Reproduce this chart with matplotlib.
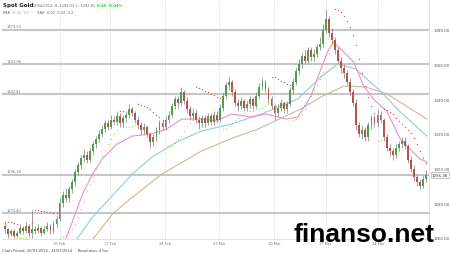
import matplotlib
matplotlib.use("Agg")
import matplotlib.pyplot as plt
import numpy as np

# ---------------- data ----------------
first_open = 1267
closes = [
    1265, 1262, 1264, 1261, 1263, 1266, 1264, 1267, 1263, 1265,
    1264, 1266, 1263, 1265, 1267, 1264, 1268, 1271,
    1280, 1285, 1283,
    1288, 1292, 1298, 1302, 1306,
    1308, 1305, 1310, 1314, 1317,
    1320, 1323, 1326, 1324, 1328,
    1327, 1330, 1326, 1329, 1331, 1334, 1332,
    1328, 1325, 1322, 1324, 1320,
    1315, 1318,
    1322, 1326, 1324, 1328, 1331,
    1336, 1340, 1338, 1344,
    1339, 1334, 1330, 1332, 1328, 1326,
    1329, 1326, 1330, 1327, 1331, 1328,
    1335, 1342, 1348, 1350,
    1344, 1338, 1336, 1339, 1335, 1337, 1340, 1336,
    1342, 1347, 1350, 1346,
    1340, 1336, 1332, 1335, 1338, 1334, 1337,
    1345, 1350,
    1356, 1360,
    1365, 1362, 1368, 1364, 1366, 1370, 1372,
    1380, 1386,
    1378, 1374,
    1368, 1362, 1358,
    1355, 1350,
    1344, 1338,
    1325, 1320,
    1322, 1318, 1325, 1329, 1326, 1331, 1328,
    1318, 1312, 1310,
    1308, 1312,
    1314, 1316, 1313,
    1305, 1300,
    1295, 1292, 1290, 1294,
    1296.38,
]
highs = [
    1269, 1266, 1265, 1265, 1264, 1268, 1267, 1269, 1268, 1276,
    1267, 1268, 1267, 1267, 1269, 1268, 1270, 1273,
    1283, 1287, 1289,
    1290, 1294, 1300, 1304, 1308,
    1311, 1310, 1312, 1316, 1319,
    1322, 1325, 1328, 1328, 1331,
    1330, 1333, 1332, 1331, 1333, 1337, 1336,
    1333, 1330, 1327, 1326, 1325,
    1321, 1320,
    1324, 1328, 1328, 1330, 1333,
    1338, 1342, 1342, 1347,
    1345, 1341, 1336, 1335, 1334, 1330,
    1331, 1331, 1332, 1332, 1333, 1333,
    1337, 1344, 1350, 1353,
    1351, 1346, 1340, 1341, 1340, 1339, 1342, 1341,
    1344, 1349, 1352, 1351,
    1347, 1342, 1337, 1337, 1340, 1339, 1339,
    1347, 1352,
    1358, 1363,
    1367, 1368, 1370, 1370, 1369, 1372, 1376,
    1383, 1392,
    1388, 1381,
    1376, 1370, 1364,
    1360, 1357,
    1352, 1346,
    1340, 1327,
    1325, 1324, 1327, 1331, 1331, 1334, 1333,
    1329, 1320, 1314,
    1312, 1314,
    1316, 1318, 1318,
    1314, 1307,
    1302, 1297, 1294, 1296,
    1299,
]
lows = [
    1263, 1260, 1261, 1260, 1260, 1262, 1262, 1263, 1261, 1260,
    1262, 1263, 1261, 1262, 1264, 1262, 1263, 1266,
    1270, 1278, 1281,
    1281, 1286, 1290, 1296, 1300,
    1304, 1303, 1304, 1308, 1312,
    1315, 1318, 1321, 1322, 1323,
    1325, 1325, 1324, 1324, 1327, 1329, 1330,
    1326, 1323, 1320, 1320, 1318,
    1312, 1313,
    1316, 1320, 1322, 1322, 1326,
    1329, 1334, 1335, 1336,
    1337, 1332, 1328, 1328, 1326, 1323,
    1324, 1324, 1325, 1325, 1325, 1326,
    1327, 1333, 1340, 1345,
    1342, 1336, 1333, 1334, 1333, 1333, 1335, 1334,
    1335, 1340, 1345, 1344,
    1338, 1334, 1328, 1330, 1333, 1332, 1332,
    1336, 1343,
    1348, 1354,
    1358, 1360, 1360, 1362, 1362, 1364, 1368,
    1370, 1378,
    1376, 1372,
    1366, 1360, 1355,
    1352, 1348,
    1342, 1336,
    1322, 1318,
    1317, 1316, 1316, 1323, 1324, 1324, 1326,
    1316, 1310, 1307,
    1305, 1306,
    1310, 1312, 1311,
    1303, 1298,
    1293, 1290, 1288, 1289,
    1292,
]

# EMA lines (candle index, price)
ema20_x = [19.5, 22.3, 25.6, 28.9, 32.1, 37.0, 42.0, 48.5, 53.4, 58.4, 64.9, 69.8, 74.8,
           81.3, 86.2, 92.8, 96.7, 101.0, 104.3, 106.5, 108.5, 110.8, 115.1, 118.4,
           121.6, 126.2, 130.5, 137.0, 139.3]
ema20_y = [1257.0, 1269.7, 1285.3, 1296.8, 1305.5, 1314.1, 1318.7, 1319.9, 1322.8, 1328.5,
           1328.5, 1327.4, 1331.4, 1329.7, 1331.4, 1328.5, 1329.7, 1341.7, 1357.4, 1367.1,
           1372.9, 1368.9, 1361.4, 1347.6, 1340.1, 1332.6, 1317.0, 1305.5, 1303.7]
ema50_x = [23.0, 28.9, 34.4, 42.0, 48.5, 56.7, 64.9, 74.8, 84.6, 96.7, 104.3, 109.8,
           115.7, 123.9, 130.5, 139.3]
ema50_y = [1257.5, 1272.0, 1282.4, 1296.8, 1306.6, 1315.3, 1321.6, 1325.6, 1331.4, 1340.1,
           1352.7, 1360.2, 1357.4, 1344.7, 1332.6, 1318.7]
ema100_x = [28.2, 35.4, 41.3, 51.8, 64.9, 75.0, 83.6, 97.7, 104.3, 111.8, 119.0, 126.2, 139.3]
ema100_y = [1257.5, 1273.7, 1282.4, 1296.8, 1310.1, 1317.5, 1322.8, 1334.3, 1341.2, 1347.5,
            1347.0, 1342.9, 1328.5]

level_values = [1379.93, 1359.96, 1342.82, 1296.38, 1274.40]
level_labels = ["1379.93", "1359.96", "1342.82", "1296.38", "1274.40"]

y_ticks = [1260, 1280, 1300, 1320, 1340, 1360, 1380]
x_tick_labels = ["10 Feb", "17 Feb", "24 Feb", "03 Mar", "10 Mar", "17 Mar", "24 Mar"]
x_tick_pos = [18.0, 34.8, 52.8, 70.8, 88.9, 105.9, 123.3]

last_price = 1296.38

# ---------------- indicators ----------------
opens = [first_open] + closes[:-1]


def psar(h, l, step=0.02, mx=0.2):
    n = len(h)
    out = [0.0] * n
    up = [False] * n
    trend_up = False
    s = h[0]
    ep = l[0]
    af = step
    out[0] = s
    for i in range(1, n):
        s = s + af * (ep - s)
        if trend_up:
            s = min(s, l[i - 1], l[i - 2] if i > 1 else l[i - 1])
            if l[i] < s:
                trend_up = False
                s = ep
                ep = l[i]
                af = step
            elif h[i] > ep:
                ep = h[i]
                af = min(af + step, mx)
        else:
            s = max(s, h[i - 1], h[i - 2] if i > 1 else h[i - 1])
            if h[i] > s:
                trend_up = True
                s = ep
                ep = h[i]
                af = step
            elif l[i] < ep:
                ep = l[i]
                af = min(af + step, mx)
        out[i] = s
        up[i] = trend_up
    return out, up


sar, sar_up = psar(highs, lows)

# ---------------- figure ----------------
W, H = 450, 255
fig = plt.figure(figsize=(W / 100, H / 100), dpi=100)
fig.patch.set_facecolor("white")
ax = fig.add_axes([2 / W, 15 / H, 427 / W, 238 / H])
ax.set_facecolor("white")
ax.set_xlim(-1, 140)
ax.set_ylim(1259.4, 1396.5)

# vertical grid
for xp in x_tick_pos:
    ax.axvline(xp, color="#ececec", lw=0.6, zorder=0)

# horizontal levels
for v, lab in zip(level_values, level_labels):
    ax.axhline(v, color="#c6c6c6", lw=1.5, zorder=1)
    ax.text(0.5, v + 0.8, lab, fontsize=2.6, color="#777777", ha="left", va="bottom", zorder=2)

# EMAs
ax.plot(ema100_x, ema100_y, color="#cbb99c", lw=0.8, zorder=3)
ax.plot(ema50_x, ema50_y, color="#8fcde0", lw=0.8, zorder=3)
ax.plot(ema20_x, ema20_y, color="#ec8fd0", lw=0.8, zorder=3)

# candles
idx = np.arange(len(closes))
o = np.array(opens, float)
c = np.array(closes, float)
hh = np.array(highs, float)
ll = np.array(lows, float)
up = c >= o
ax.vlines(idx, ll, hh, color="#8f8f8f", lw=0.6, zorder=4)
body_lo = np.minimum(o, c)
body_h = np.maximum(np.abs(c - o), 0.4)
colors = np.where(up, "#4e9e4b", "#b9514d")
ax.bar(idx, body_h, bottom=body_lo, width=0.62, color=colors, edgecolor="none", zorder=5)

# SAR
sar = np.array(sar)
sar_up = np.array(sar_up)
ax.scatter(idx[~sar_up], sar[~sar_up], s=0.9, color="#f24a3a", linewidths=0, zorder=6)
ax.scatter(idx[sar_up], sar[sar_up], s=0.9, color="#a6e040", linewidths=0, zorder=6)

# axes styling
for sp in ["top", "left"]:
    ax.spines[sp].set_visible(False)
for sp in ["right", "bottom"]:
    ax.spines[sp].set_color("#dddddd")
    ax.spines[sp].set_linewidth(0.6)
ax.yaxis.tick_right()
ax.set_yticks(y_ticks)
ax.set_yticklabels(["%.2f" % t for t in y_ticks], fontsize=2.8, color="#555555")
ax.tick_params(axis="y", length=0, pad=3)
ax.set_xticks(x_tick_pos)
ax.set_xticklabels(x_tick_labels, fontsize=2.6, color="#777777")
ax.tick_params(axis="x", length=0, pad=1.5)

# last price box
ax.annotate("%.2f" % last_price, xy=(1.0, last_price), xycoords=("axes fraction", "data"),
            xytext=(2, 0), textcoords="offset points", fontsize=2.9, color="#333333",
            va="center", ha="left",
            bbox=dict(boxstyle="square,pad=0.25", fc="white", ec="#999999", lw=0.4),
            annotation_clip=False, zorder=10)

# header
fig.text(3 / W, 1 - 6 / H, "Spot Gold", fontsize=4.0, fontweight="bold", color="#222222",
         va="center", ha="left")
fig.text(32 / W, 1 - 6 / H, "08/04/2014  H: 1299.03  L: 1292.81", fontsize=2.5,
         color="#666666", va="center", ha="left")
fig.text(97 / W, 1 - 6 / H, "0.45  0.04%", fontsize=2.8, fontweight="bold", color="#33cc33",
         va="center", ha="left")
fig.text(3 / W, 1 - 12.5 / H, "EMA", fontsize=2.6, color="#666666", va="center", ha="left")
fig.text(12 / W, 1 - 12.5 / H, "20", fontsize=2.6, color="#ec8fd0", va="center", ha="left")
fig.text(17 / W, 1 - 12.5 / H, "50", fontsize=2.6, color="#6fbcd8", va="center", ha="left")
fig.text(22.5 / W, 1 - 12.5 / H, "100", fontsize=2.6, color="#c5b08c", va="center", ha="left")
fig.text(37 / W, 1 - 12.5 / H, "SAR  0.02  0.02  0.2", fontsize=2.6, color="#666666",
         va="center", ha="left")

# footer
fig.text(2 / W, 4 / H, "Chart Period: 20/01/2014 - 31/03/2014     Resolution: 4 hrs",
         fontsize=2.6, color="#444444", va="center", ha="left")

# watermark
fig.text(293 / W, 13 / H, "finanso.net", fontsize=19.0, fontweight="bold",
         family="Liberation Sans", color="black", va="baseline", ha="left", zorder=20)

fig.savefig("out.png", dpi=100, facecolor="white")
